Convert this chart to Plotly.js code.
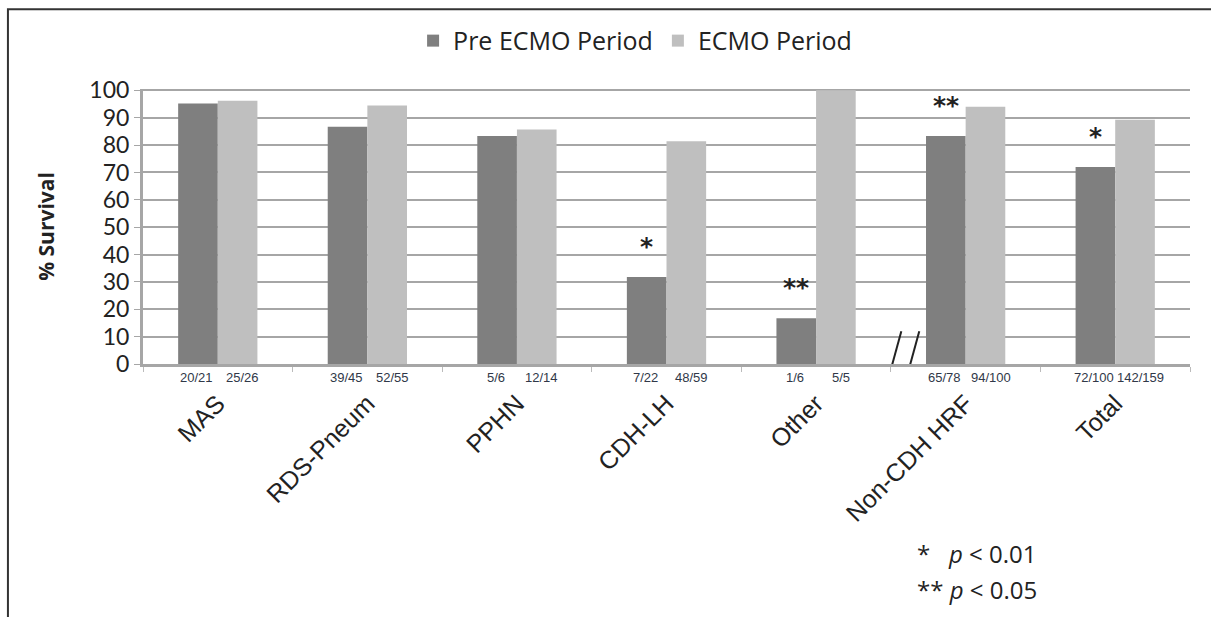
<!DOCTYPE html>
<html>
<head>
<meta charset="utf-8">
<script src="https://cdn.plot.ly/plotly-3.0.1.min.js"></script>
<style>html,body{margin:0;padding:0;background:#fff;}#chart{width:1211px;height:617px;}</style>
</head>
<body>
<div id="chart"></div>
<script>
const categories = ["MAS", "RDS-Pneum", "PPHN", "CDH-LH", "Other", "Non-CDH HRF", "Total"];
const preValues = [95.2, 86.7, 83.3, 31.8, 16.7, 83.3, 72.0];
const ecmoValues = [96.2, 94.5, 85.7, 81.4, 100, 94.0, 89.3];
const preCounts = ["20/21", "39/45", "5/6", "7/22", "1/6", "65/78", "72/100"];
const ecmoCounts = ["25/26", "52/55", "12/14", "48/59", "5/5", "94/100", "142/159"];
const preStars = ["", "", "", "*", "**", "**", "*"];
const yTicks = [0, 10, 20, 30, 40, 50, 60, 70, 80, 90, 100];

const DARK = "#7f7f7f", LIGHT = "#bfbfbf";

const traces = [
  {type: "bar", name: "Pre ECMO Period", x: categories, y: preValues,
   marker: {color: DARK}, hoverinfo: "y"},
  {type: "bar", name: "ECMO Period", x: categories, y: ecmoValues,
   marker: {color: LIGHT}, hoverinfo: "y"}
];

const annotations = [];
categories.forEach((c, i) => {
  annotations.push({x: c, xref: "x", y: 0, yref: "y", yanchor: "top", xanchor: "center",
    xshift: -21, yshift: -4, text: preCounts[i], showarrow: false,
    font: {family: "Liberation Sans, Arial", size: 13, color: "#303848"}});
  annotations.push({x: c, xref: "x", y: 0, yref: "y", yanchor: "top", xanchor: "center",
    xshift: 25, yshift: -4, text: ecmoCounts[i], showarrow: false,
    font: {family: "Liberation Sans, Arial", size: 13, color: "#303848"}});
  if (preStars[i]) {
    annotations.push({x: c, xref: "x", y: preValues[i], yref: "y", yanchor: "bottom",
      xanchor: "center", xshift: -20, yshift: 14, text: "<b>" + preStars[i] + "</b>", showarrow: false,
      font: {family: "DejaVu Sans", size: 25, color: "#222"}});
  }
});
annotations.push({xref: "paper", yref: "paper", x: 0.737, y: -0.69, xanchor: "left", yanchor: "middle",
  text: "*&nbsp;&nbsp;&nbsp;<i>p</i> &lt; 0.01", showarrow: false, align: "left",
  font: {family: "Open Sans", size: 24, color: "#222"}});
annotations.push({xref: "paper", yref: "paper", x: 0.737, y: -0.82, xanchor: "left", yanchor: "middle",
  text: "** <i>p</i> &lt; 0.05", showarrow: false, align: "left",
  font: {family: "Open Sans", size: 24, color: "#222"}});

const breakIdx = categories.indexOf("Non-CDH HRF") - 0.5;
const shapes = [
  {type: "path", xref: "paper", yref: "paper",
   path: "M -0.129,-1.2 L -0.129,1.29 L 1.2,1.29", line: {color: "#333", width: 2}},
  {type: "line", xref: "x", yref: "y", x0: breakIdx - 0.03, x1: breakIdx + 0.07, y0: -8, y1: 12,
   line: {color: "#222", width: 2}},
  {type: "line", xref: "x", yref: "y", x0: breakIdx + 0.09, x1: breakIdx + 0.19, y0: -8, y1: 12,
   line: {color: "#222", width: 2}}
];

const layout = {
  width: 1211, height: 617,
  margin: {l: 143, r: 21, t: 89, b: 253},
  paper_bgcolor: "#fff", plot_bgcolor: "#fff",
  barmode: "group", bargap: 0.47, bargroupgap: 0,
  showlegend: true,
  legend: {orientation: "h", x: 0.47, xanchor: "center", y: 1.175, yanchor: "middle",
    font: {family: "Open Sans", size: 25, color: "#222"}, itemwidth: 30, traceorder: "normal"},
  xaxis: {type: "category", tickangle: -45, showgrid: false, showline: true, linecolor: "#a6a6a6",
    linewidth: 3, ticks: "outside", tickson: "boundaries", ticklen: 5, tickcolor: "#bbb",
    tickfont: {family: "Liberation Sans, Arial", size: 25, color: "#222"}, ticklabelstandoff: 12},
  yaxis: {range: [0, 100.5], tickvals: yTicks, showgrid: true, gridcolor: "#a6a6a6", gridwidth: 2,
    showline: true, linecolor: "#a6a6a6", linewidth: 3, ticks: "outside", ticklen: 6, tickcolor: "#a6a6a6",
    tickfont: {family: "Lato", size: 23, color: "#222"}, zeroline: false,
    title: {text: "<b>% Survival</b>", font: {family: "Open Sans", size: 21, color: "#222"}, standoff: 30}},
  annotations: annotations,
  shapes: shapes
};

Plotly.newPlot("chart", traces, layout, {displayModeBar: false, staticPlot: true});
</script>
</body>
</html>
